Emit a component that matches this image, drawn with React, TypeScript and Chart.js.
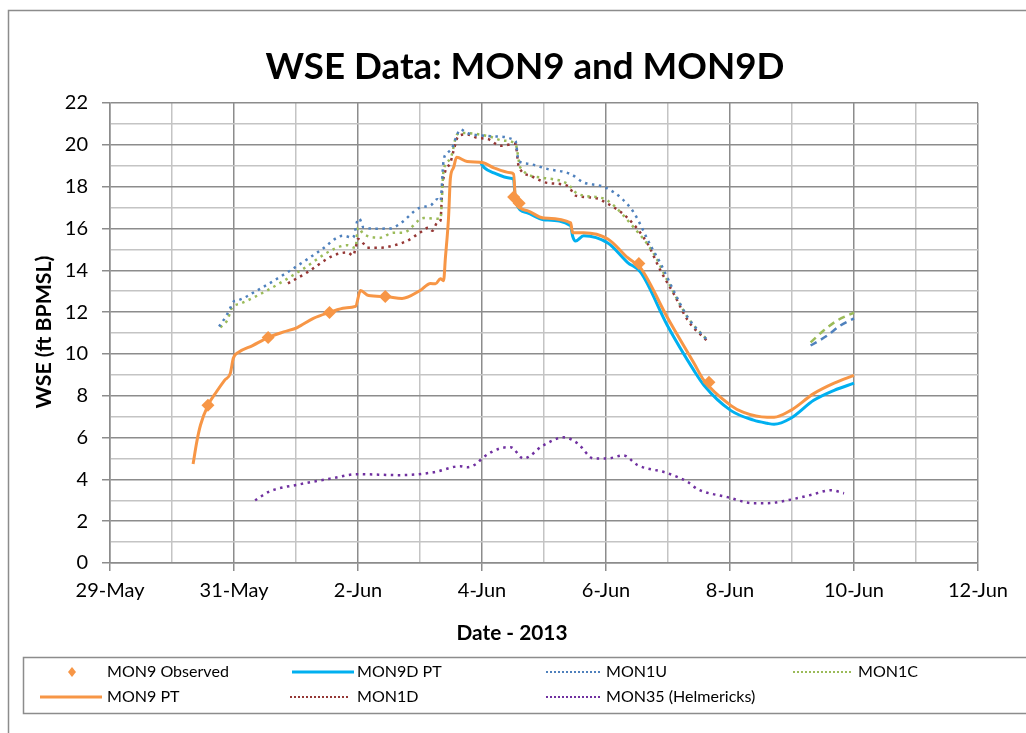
import React, { useEffect, useRef } from 'react';
import { Chart, registerables } from 'chart.js';

Chart.register(...registerables);

// x values: days since 29-May-2013 00:00
const X_TICK_LABELS = ['29-May', '31-May', '2-Jun', '4-Jun', '6-Jun', '8-Jun', '10-Jun', '12-Jun'];
const TITLE = 'WSE Data: MON9 and MON9D';
const X_TITLE = 'Date - 2013';
const Y_TITLE = 'WSE (ft BPMSL)';

const mon9Observed: [number, number][] = [
  [1.58, 7.54], [2.55, 10.78], [3.54, 11.98], [4.44, 12.74], [6.51, 17.5], [6.6, 17.2], [8.53, 14.32], [9.66, 8.64],
];

const mon9PT: [number, number][] = [
  [1.34, 4.73], [1.4, 5.8], [1.46, 6.6], [1.58, 7.54], [1.72, 8.2], [1.85, 8.75], [1.94, 9.07], [1.99, 9.8],
  [2.07, 10.07], [2.3, 10.4], [2.55, 10.78], [2.8, 11.05], [3.02, 11.26], [3.28, 11.7], [3.54, 11.98], [3.79, 12.2],
  [3.96, 12.27], [4.04, 13.03], [4.17, 12.79], [4.44, 12.74], [4.71, 12.65], [5.0, 13.03], [5.17, 13.37], [5.25, 13.35],
  [5.33, 13.6], [5.38, 13.5], [5.41, 14.6], [5.46, 16.5], [5.49, 18.4], [5.54, 18.9], [5.59, 19.4], [5.76, 19.2],
  [6.02, 19.14], [6.19, 18.9], [6.46, 18.66], [6.51, 18.6], [6.54, 17.4], [6.73, 16.85], [6.99, 16.5], [7.43, 16.27],
  [7.46, 15.8], [7.64, 15.8], [8.03, 15.5], [8.35, 14.6], [8.56, 14.1], [8.99, 11.74], [9.42, 9.55], [9.58, 8.73],
  [10.01, 7.54], [10.22, 7.2], [10.6, 6.97], [10.71, 6.97], [10.98, 7.3], [11.35, 8.1], [11.68, 8.6], [12.0, 8.97],
];

const mon9DPT: [number, number][] = [
  [5.98, 19.14], [6.04, 18.9], [6.19, 18.66], [6.46, 18.4], [6.51, 18.35], [6.54, 17.3], [6.73, 16.75], [6.99, 16.42],
  [7.43, 16.13], [7.46, 15.65], [7.51, 15.4], [7.64, 15.65], [8.03, 15.3], [8.35, 14.37], [8.56, 13.9], [8.99, 11.36],
  [9.42, 9.2], [9.58, 8.5], [10.01, 7.3], [10.38, 6.83], [10.6, 6.68], [10.71, 6.63], [10.98, 6.92], [11.35, 7.78],
  [11.68, 8.26], [12.0, 8.6],
];

const mon1U: [number, number][] = [
  [1.76, 11.31], [1.87, 11.8], [1.94, 12.2], [1.99, 12.5], [2.05, 12.55], [2.37, 13.03], [2.86, 13.9], [3.39, 14.94],
  [3.76, 15.65], [3.92, 15.56], [3.99, 16.37], [4.02, 16.47], [4.09, 16.04], [4.31, 15.99], [4.52, 16.0], [4.68, 16.23],
  [5.0, 17.0], [5.17, 17.1], [5.28, 17.4], [5.33, 17.3], [5.38, 19.24], [5.44, 19.6], [5.52, 19.86], [5.6, 20.5],
  [5.65, 20.74], [5.76, 20.56], [6.09, 20.42], [6.19, 20.4], [6.54, 20.19], [6.59, 19.24], [6.73, 19.1], [7.05, 18.85],
  [7.43, 18.6], [7.64, 18.2], [7.91, 18.04], [8.03, 17.9], [8.24, 17.47], [8.45, 16.75], [8.72, 15.18], [8.88, 14.32],
  [9.09, 13.03], [9.32, 11.74], [9.53, 10.98], [9.64, 10.64],
];
const mon1ULate: [number, number][] = [[11.3, 10.4], [11.57, 10.88], [11.78, 11.36], [12.0, 11.7]];

const mon1C: [number, number][] = [
  [1.78, 11.27], [1.89, 11.6], [1.97, 12.22], [2.1, 12.4], [2.53, 13.03], [3.07, 13.98], [3.6, 15.0], [3.83, 15.2],
  [3.96, 15.07], [4.0, 16.04], [4.09, 15.73], [4.36, 15.56], [4.57, 15.8], [4.73, 15.8], [5.06, 16.5], [5.22, 16.47],
  [5.33, 16.46], [5.38, 18.76], [5.49, 19.33], [5.6, 20.5], [5.7, 20.57], [6.09, 20.42], [6.35, 20.2], [6.54, 20.05],
  [6.62, 18.9], [6.99, 18.42], [7.38, 18.13], [7.54, 17.66], [7.91, 17.47], [8.03, 17.33], [8.45, 16.04], [8.77, 14.8],
  [8.99, 13.51], [9.32, 11.74], [9.64, 10.64],
];
const mon1CLate: [number, number][] = [[11.3, 10.55], [11.51, 11.12], [11.73, 11.6], [12.0, 11.98]];

const mon1D: [number, number][] = [
  [2.87, 13.37], [3.18, 13.9], [3.6, 14.7], [3.83, 14.85], [3.92, 14.7], [3.96, 15.04], [4.0, 15.5], [4.09, 15.27],
  [4.15, 15.08], [4.36, 15.08], [4.57, 15.18], [4.8, 15.42], [5.0, 15.8], [5.14, 16.04], [5.2, 15.89], [5.28, 16.28],
  [5.33, 16.37], [5.36, 17.95], [5.41, 18.76], [5.49, 19.14], [5.54, 19.7], [5.62, 20.42], [5.76, 20.5], [5.92, 20.33],
  [6.09, 20.28], [6.3, 19.95], [6.54, 20.05], [6.59, 19.0], [6.78, 18.52], [7.05, 18.18], [7.38, 18.04], [7.51, 17.57],
  [7.8, 17.47], [8.03, 17.18], [8.35, 16.5], [8.67, 15.27], [8.88, 13.98], [9.09, 12.89], [9.32, 11.6], [9.64, 10.6],
];

const mon35: [number, number][] = [
  [2.34, 3.0], [2.58, 3.43], [3.07, 3.77], [3.6, 4.06], [3.99, 4.25], [4.68, 4.2], [5.22, 4.34], [5.65, 4.63],
  [5.76, 4.58], [5.92, 4.77], [6.0, 5.0], [6.15, 5.3], [6.3, 5.49], [6.46, 5.54], [6.67, 5.0], [6.99, 5.63],
  [7.32, 6.01], [7.54, 5.73], [7.8, 5.0], [8.03, 5.0], [8.28, 5.15], [8.51, 4.68], [8.99, 4.3], [9.32, 3.87],
  [9.48, 3.53], [9.96, 3.15], [10.38, 2.86], [10.6, 2.86], [10.93, 3.0], [11.3, 3.25], [11.63, 3.48], [11.84, 3.34],
];

const ORANGE = '#F79646';
const CYAN = '#00B0F0';
const BLUE = '#4F81BD';
const GREEN = '#9BBB59';
const RED = '#953735';
const PURPLE = '#7030A0';
const FONT = 'Lato, "Open Sans", sans-serif';
const DOT = [2.5, 4.5];
const DASH = [7, 5];

const xy = (arr: [number, number][]) => arr.map(([x, y]) => ({ x, y }));

function fitSize(ctx: CanvasRenderingContext2D, text: string, target: number, weight: string) {
  ctx.font = `${weight} 100px ${FONT}`;
  const w = ctx.measureText(text).width;
  return (100 * target) / w;
}

const decorPlugin = {
  id: 'decor',
  afterDraw(chart: any) {
    const ctx: CanvasRenderingContext2D = chart.ctx;
    ctx.save();
    // outer border
    ctx.strokeStyle = '#8C8C8C';
    ctx.lineWidth = 1.5;
    ctx.setLineDash([]);
    ctx.beginPath();
    ctx.moveTo(8.5, 733);
    ctx.lineTo(8.5, 10.5);
    ctx.lineTo(1026, 10.5);
    ctx.stroke();

    ctx.fillStyle = '#000';
    ctx.textAlign = 'center';
    ctx.textBaseline = 'middle';
    let s = fitSize(ctx, TITLE, 519, 'bold');
    ctx.font = `bold ${s}px ${FONT}`;
    ctx.fillText(TITLE, 525, 67);

    s = fitSize(ctx, X_TITLE, 111, 'bold');
    ctx.font = `bold ${s}px ${FONT}`;
    ctx.fillText(X_TITLE, 512, 633);

    s = fitSize(ctx, Y_TITLE, 153, 'bold');
    ctx.font = `bold ${s}px ${FONT}`;
    ctx.save();
    ctx.translate(44, 332);
    ctx.rotate(-Math.PI / 2);
    ctx.fillText(Y_TITLE, 0, 0);
    ctx.restore();

    // legend box
    ctx.strokeStyle = '#8C8C8C';
    ctx.lineWidth = 1.5;
    ctx.beginPath();
    ctx.moveTo(1026, 657.5);
    ctx.lineTo(23.5, 657.5);
    ctx.lineTo(23.5, 713.5);
    ctx.lineTo(1026, 713.5);
    ctx.stroke();

    const ls = fitSize(ctx, 'MON9 Observed', 122, 'normal');
    ctx.font = `${ls}px ${FONT}`;
    ctx.textAlign = 'left';
    const r1 = 672;
    const r2 = 697;
    const line = (x1: number, x2: number, y: number, color: string, w: number, dash: number[]) => {
      ctx.strokeStyle = color;
      ctx.lineWidth = w;
      ctx.setLineDash(dash);
      ctx.beginPath();
      ctx.moveTo(x1, y);
      ctx.lineTo(x2, y);
      ctx.stroke();
      ctx.setLineDash([]);
    };
    // diamond
    ctx.fillStyle = ORANGE;
    ctx.beginPath();
    ctx.moveTo(72, r1 - 5);
    ctx.lineTo(76, r1);
    ctx.lineTo(72, r1 + 5);
    ctx.lineTo(68, r1);
    ctx.closePath();
    ctx.fill();
    line(40, 102, r2, ORANGE, 3, []);
    line(292, 354, r1, CYAN, 3, []);
    line(290, 348, r2, RED, 2, [2, 2]);
    line(546, 601, r1, BLUE, 2, [2, 2]);
    line(546, 601, r2, PURPLE, 2, [2, 2]);
    line(793, 853, r1, GREEN, 2, [2, 2]);
    ctx.fillStyle = '#000';
    ctx.fillText('MON9 Observed', 107, r1);
    ctx.fillText('MON9 PT', 107, r2);
    ctx.fillText('MON9D PT', 357, r1);
    ctx.fillText('MON1D', 357, r2);
    ctx.fillText('MON1U', 606, r1);
    ctx.fillText('MON35 (Helmericks)', 606, r2);
    ctx.fillText('MON1C', 858, r1);
    ctx.restore();
  },
};

const majorGrid = '#8C8C8C';
const minorGrid = '#C4C4C4';

export default function App() {
  const ref = useRef<HTMLCanvasElement | null>(null);
  useEffect(() => {
    if (!ref.current) return;
    const dotted = (label: string, data: [number, number][], color: string, dash: number[], order: number) => ({
      label,
      data: xy(data),
      borderColor: color,
      backgroundColor: color,
      borderWidth: 2.5,
      borderDash: dash,
      pointRadius: 0,
      cubicInterpolationMode: 'monotone' as const,
      fill: false,
      order,
    });
    const chart = new Chart(ref.current, {
      type: 'line',
      data: {
        datasets: [
          {
            label: 'MON9 Observed',
            data: xy(mon9Observed),
            showLine: false,
            pointStyle: 'rectRot',
            pointRadius: 6.5,
            pointBorderWidth: 0,
            backgroundColor: ORANGE,
            borderColor: ORANGE,
            order: 0,
          },
          {
            label: 'MON9 PT',
            data: xy(mon9PT),
            borderColor: ORANGE,
            backgroundColor: ORANGE,
            borderWidth: 3,
            pointRadius: 0,
            cubicInterpolationMode: 'monotone',
            order: 1,
          },
          {
            label: 'MON9D PT',
            data: xy(mon9DPT),
            borderColor: CYAN,
            backgroundColor: CYAN,
            borderWidth: 3,
            pointRadius: 0,
            cubicInterpolationMode: 'monotone',
            order: 2,
          },
          dotted('MON1U', mon1U, BLUE, DOT, 3),
          dotted('MON1U', mon1ULate, BLUE, DASH, 3),
          dotted('MON1C', mon1C, GREEN, DOT, 4),
          dotted('MON1C', mon1CLate, GREEN, DASH, 4),
          dotted('MON1D', mon1D, RED, DOT, 5),
          dotted('MON35 (Helmericks)', mon35, PURPLE, DOT, 6),
        ] as any,
      },
      options: {
        animation: false,
        responsive: false,
        layout: { padding: { left: 0, right: 48, top: 103, bottom: 0 } },
        plugins: { legend: { display: false }, tooltip: { enabled: false }, title: { display: false } },
        scales: {
          x: {
            type: 'linear',
            min: 0,
            max: 14,
            afterFit: (s: any) => {
              s.height = 170;
            },
            ticks: {
              stepSize: 1,
              autoSkip: false,
              maxRotation: 0,
              padding: 8,
              color: '#000',
              font: { family: FONT, size: 20 },
              callback: (v: any) => (Number(v) % 2 === 0 ? X_TICK_LABELS[Number(v) / 2] : ''),
            },
            grid: {
              color: (c: any) => (c.tick && c.tick.value % 2 === 0 ? majorGrid : minorGrid),
              lineWidth: 1.5,
              tickLength: 8,
              tickColor: (c: any) => (c.tick && c.tick.value % 2 === 0 ? majorGrid : 'rgba(0,0,0,0)'),
            },
            border: { color: majorGrid, width: 1.5 },
          },
          y: {
            type: 'linear',
            min: 0,
            max: 22,
            afterFit: (s: any) => {
              s.width = 110;
            },
            ticks: {
              stepSize: 1,
              autoSkip: false,
              padding: 14,
              color: '#000',
              font: { family: FONT, size: 20 },
              callback: (v: any) => (Number(v) % 2 === 0 ? String(v) : ''),
            },
            grid: {
              color: (c: any) => (c.tick && c.tick.value % 2 === 0 ? majorGrid : minorGrid),
              lineWidth: 1.5,
              tickLength: 8,
              tickColor: (c: any) => (c.tick && c.tick.value % 2 === 0 ? majorGrid : 'rgba(0,0,0,0)'),
            },
            border: { color: majorGrid, width: 1.5 },
          },
        },
      },
      plugins: [decorPlugin],
    } as any);
    return () => chart.destroy();
  }, []);
  return (
    <div style={{ position: 'fixed', left: 0, top: 0, width: 1026, height: 733, background: '#fff' }}>
      <canvas ref={ref} width={1026} height={733} style={{ display: 'block' }} />
    </div>
  );
}
